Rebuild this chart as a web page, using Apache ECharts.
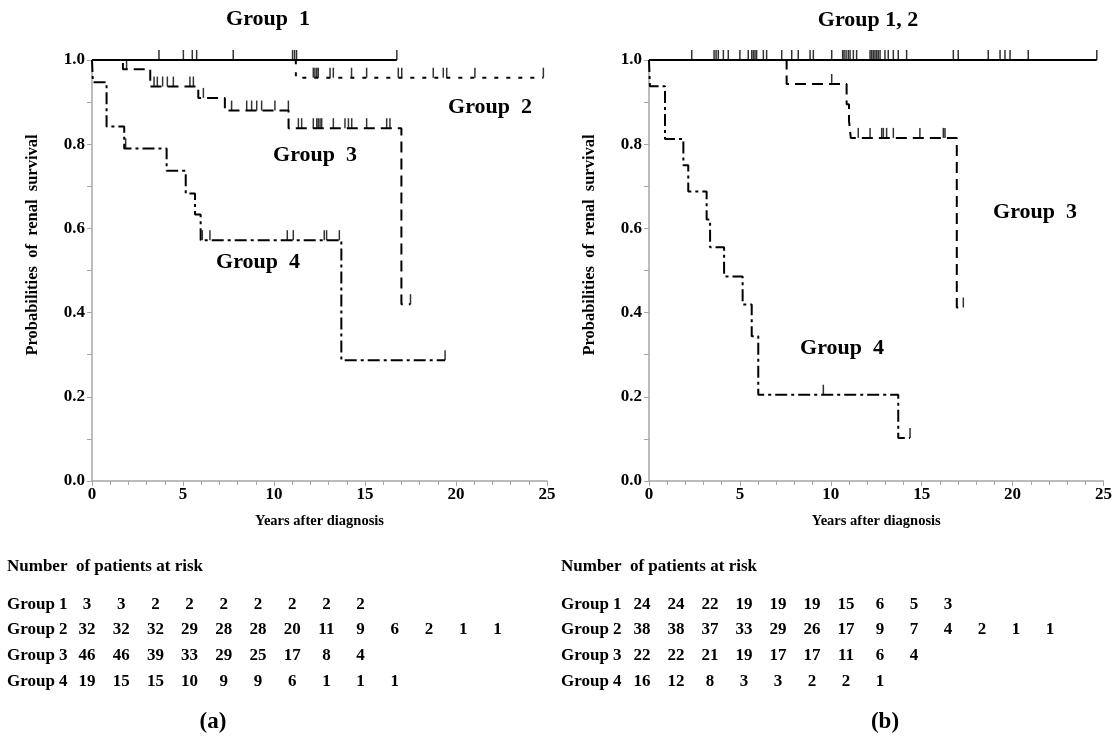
<!DOCTYPE html>
<html><head><meta charset="utf-8">
<script src="https://cdn.jsdelivr.net/npm/echarts@6/dist/echarts.min.js"></script>
<style>html,body{margin:0;padding:0;background:#fff}#c{width:1115px;height:755px}</style>
</head><body><div id="c"></div>
<script>
// ---------- Axis ticks ----------
const xTickInterval = 5;   // years
const yTickInterval = 0.2; // probability
const xMax = 25;

// ---------- Panel (a): Kaplan-Meier step points [time, survival] ----------
const a_g1 = [[0,1],[16.75,1]];
const a_g1_cens = [3.68,5.02,5.51,5.75,7.76,11.02,11.13,11.24,16.75];

const a_g2 = [[0,1],[11.2,0.958],[24.8,0.958]];
const a_g2_cens = [12.16,12.25,12.35,12.43,13.08,13.26,14.26,15.09,16.83,17.02,18.75,19.3,19.49,21.04,24.8];

const a_g3 = [[0,1],[1.7,0.978],[3.2,0.937],[5.84,0.91],[7.3,0.88],[10.8,0.838],[17.0,0.42],[17.5,0.42]];
const a_g3_cens = [1.9,3.41,3.59,3.88,4.14,4.47,5.38,5.57,6.12,7.67,8.5,8.77,9.05,9.32,10.05,10.79,
  11.34,11.52,12.16,12.35,12.43,12.53,12.62,13.26,13.9,14.09,14.27,15.09,16.19,16.37,17.5];

const a_g4 = [[0,1],[0.05,0.947],[0.8,0.842],[1.77,0.79],[4.1,0.737],[5.15,0.683],[5.66,0.633],[5.97,0.572],[13.7,0.287],[19.4,0.287]];
const a_g4_cens = [1.85,6.06,6.48,10.73,11.06,12.76,12.89,13.59,19.4];

// ---------- Panel (b) ----------
const b_g12 = [[0,1],[24.63,1]];
const b_g12_cens = [2.35,3.58,3.69,3.81,4.09,4.36,5.0,5.46,5.65,5.74,5.83,5.92,6.29,6.47,7.3,7.85,8.21,8.86,9.04,
  10.05,10.65,10.73,10.84,10.96,11.06,11.24,11.42,12.16,12.25,12.34,12.43,12.52,12.61,12.71,12.98,13.16,13.44,13.71,
  14.17,16.74,17.01,18.66,19.31,19.58,19.86,20.86,24.63];

const b_g3 = [[0,1],[7.57,0.943],[10.87,0.895],[11.0,0.856],[11.1,0.815],[16.93,0.412],[17.29,0.412]];
const b_g3_cens = [10.05,11.51,12.16,12.8,12.89,13.07,13.44,14.9,16.19,16.28,17.29];

const b_g4 = [[0,1],[0.05,0.9375],[0.88,0.8125],[1.89,0.75],[2.16,0.6875],[3.17,0.621],[3.36,0.555],[4.13,0.486],
  [5.15,0.419],[5.65,0.344],[6.01,0.205],[13.71,0.102],[14.36,0.102]];
const b_g4_cens = [9.59,14.36];

// ---------- Number at risk tables ----------
const riskTitle = 'Number  of patients at risk';
const riskLabels = ['Group 1','Group 2','Group 3','Group 4'];
const a_risk = [
  [3,3,2,2,2,2,2,2,2],
  [32,32,32,29,28,28,20,11,9,6,2,1,1],
  [46,46,39,33,29,25,17,8,4],
  [19,15,15,10,9,9,6,1,1,1]
];
const b_risk = [
  [24,24,22,19,19,19,15,6,5,3],
  [38,38,37,33,29,26,17,9,7,4,2,1,1],
  [22,22,21,19,17,17,11,6,4],
  [16,12,8,3,3,2,2,1]
];

// ---------- Text labels ----------
const a_labels = [['Group  1',268,19],['Group  2',490,107],['Group  3',315,155],['Group  4',258,262]];
const b_labels = [['Group 1, 2',868,20],['Group  3',1035,212],['Group  4',842,348]];
const yName = 'Probabilities  of  renal  survival';
const xName = 'Years after diagnosis';

const FONT = '"Liberation Serif", "Times New Roman", serif';
const AX = '#a6a6a6';

function levelAt(curve, t){ let v = curve[0][1]; for (const p of curve){ if (p[0] <= t) v = p[1]; } return v; }

function stepSeries(data, gi, dash, width){
  return {type:'line', xAxisIndex:gi, yAxisIndex:gi, data:data, step:'end', showSymbol:false, symbol:'none',
    clip:false, silent:true, animation:false, lineStyle:{color:'#000', width:width||2, type:dash}};
}
function censSeries(curve, times, gi){
  return {type:'scatter', xAxisIndex:gi, yAxisIndex:gi, data:times.map(t=>[t, levelAt(curve,t)]),
    symbol:'rect', symbolSize:[1.5,10], symbolOffset:[0,-5], itemStyle:{color:'#000'},
    clip:false, silent:true, animation:false, z:3};
}
function xAx(gi){
  return {type:'value', gridIndex:gi, min:0, max:xMax, interval:xTickInterval,
    axisLine:{show:true, onZero:false, lineStyle:{color:AX, width:1.5}},
    axisTick:{show:true, length:5, lineStyle:{color:AX}},
    minorTick:{show:true, splitNumber:5, length:4, lineStyle:{color:AX}},
    splitLine:{show:false}, minorSplitLine:{show:false},
    axisLabel:{color:'#000', fontFamily:FONT, fontWeight:'bold', fontSize:17, margin:5},
    name:xName, nameLocation:'middle', nameGap:33,
    nameTextStyle:{color:'#000', fontFamily:FONT, fontWeight:'bold', fontSize:14.5}};
}
function yAx(gi){
  return {type:'value', gridIndex:gi, min:0, max:1, interval:yTickInterval,
    axisLine:{show:true, onZero:false, lineStyle:{color:AX, width:1.5}},
    axisTick:{show:true, length:5, lineStyle:{color:AX}},
    minorTick:{show:true, splitNumber:2, length:5, lineStyle:{color:AX}},
    splitLine:{show:false}, minorSplitLine:{show:false},
    axisLabel:{color:'#000', fontFamily:FONT, fontWeight:'bold', fontSize:17, margin:7, formatter:v=>v.toFixed(1)}};
}
function txt(text, x, y, size, align, rot){
  return {type:'text', x:x, y:y, rotation:rot||0, silent:true,
    style:{text:text, fill:'#000', font:'bold '+size+'px '+FONT,
      align:align||'center', textAlign:align||'center', verticalAlign:'middle', textVerticalAlign:'middle'}};
}

const graphics = [];
a_labels.forEach(l=>graphics.push(txt(l[0], l[1], l[2], 22)));
b_labels.forEach(l=>graphics.push(txt(l[0], l[1], l[2], 22)));
graphics.push(txt(yName, 33, 245, 16.5, 'center', Math.PI/2));
graphics.push(txt(yName, 590, 245, 16.5, 'center', Math.PI/2));
function table(risk, labelX, numX, step){
  graphics.push(txt(riskTitle, labelX, 567, 17, 'left'));
  const rowY = [605, 630, 656, 682];
  risk.forEach((row, r)=>{
    graphics.push(txt(riskLabels[r], labelX, rowY[r], 17, 'left'));
    row.forEach((v, i)=>graphics.push(txt(String(v), numX + i*step, rowY[r], 17, 'center')));
  });
}
table(a_risk, 7, 87, 34.2);
table(b_risk, 561, 642, 34.0);
graphics.push(txt('(a)', 213, 722, 23));
graphics.push(txt('(b)', 885, 722, 23));

const DOT = [4, 8], DASH = [11, 6], DASHDOT = [12, 4, 3, 4];

const option = {
  backgroundColor:'#fff',
  animation:false,
  grid:[
    {left:92, width:455, top:60, height:421},
    {left:649, width:455, top:60, height:421}
  ],
  xAxis:[xAx(0), xAx(1)],
  yAxis:[yAx(0), yAx(1)],
  graphic: graphics,
  series:[
    stepSeries(a_g4, 0, DASHDOT), censSeries(a_g4, a_g4_cens, 0),
    stepSeries(a_g3, 0, DASH), censSeries(a_g3, a_g3_cens, 0),
    stepSeries(a_g2, 0, DOT), censSeries(a_g2, a_g2_cens, 0),
    stepSeries(a_g1, 0, 'solid'), censSeries(a_g1, a_g1_cens, 0),
    stepSeries(b_g4, 1, DASHDOT), censSeries(b_g4, b_g4_cens, 1),
    stepSeries(b_g3, 1, DASH), censSeries(b_g3, b_g3_cens, 1),
    stepSeries(b_g12, 1, 'solid'), censSeries(b_g12, b_g12_cens, 1)
  ]
};
const chart = echarts.init(document.getElementById('c'), null, {renderer:'canvas'});
chart.setOption(option);
</script></body></html>
